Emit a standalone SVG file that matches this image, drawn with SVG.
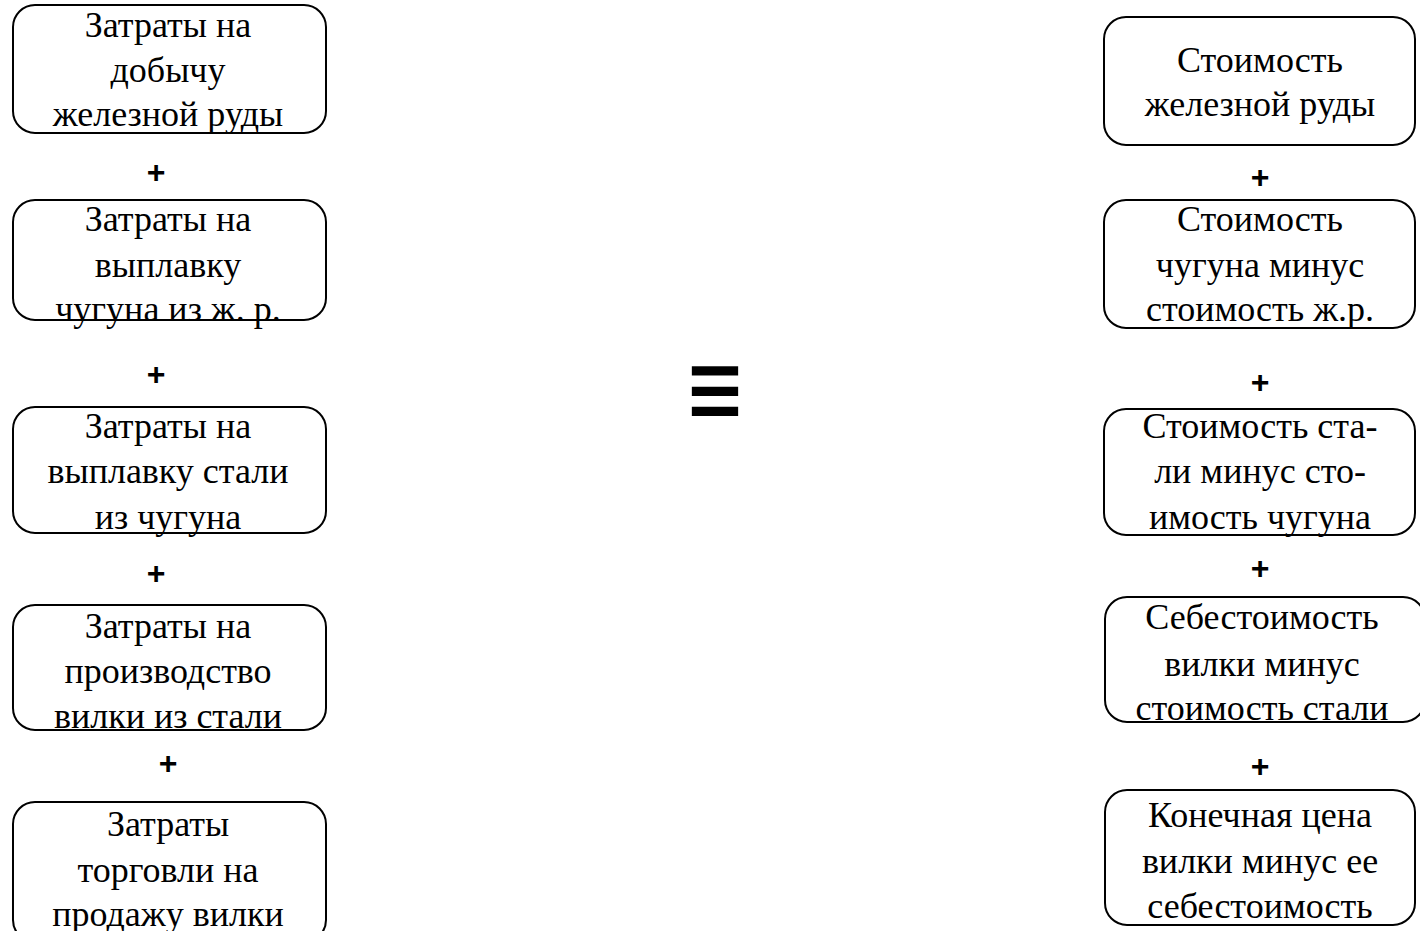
<svg xmlns="http://www.w3.org/2000/svg" width="1420" height="931" viewBox="0 0 1420 931">
<style>
.box{fill:none;stroke:#000;stroke-width:2}
.t{font-family:"Liberation Serif","Times New Roman",serif;font-size:36px;text-anchor:middle;fill:#000}
.p{font-family:"Liberation Sans",Arial,sans-serif;font-size:32px;font-weight:bold;text-anchor:middle;fill:#000}
.eq{font-family:"DejaVu Sans",sans-serif;font-size:74px;text-anchor:middle;fill:#000}
</style>
<rect width="1420" height="931" fill="#fff"/>
<g id="L1"><rect class="box" x="13" y="5" width="313" height="128" rx="22"/>
<text class="t" x="168" y="37">Затраты на</text><text class="t" x="168" y="82">добычу</text><text class="t" x="168" y="126">железной руды</text></g>
<g id="L2"><rect class="box" x="13" y="200" width="313" height="120" rx="22"/>
<text class="t" x="168" y="231">Затраты на</text><text class="t" x="168" y="277">выплавку</text><text class="t" x="168" y="321">чугуна из ж. р.</text></g>
<g id="L3"><rect class="box" x="13" y="407" width="313" height="126" rx="22"/>
<text class="t" x="168" y="438">Затраты на</text><text class="t" x="168" y="483">выплавку стали</text><text class="t" x="168" y="529">из чугуна</text></g>
<g id="L4"><rect class="box" x="13" y="605" width="313" height="125" rx="22"/>
<text class="t" x="168" y="638">Затраты на</text><text class="t" x="168" y="683">производство</text><text class="t" x="168" y="728">вилки из стали</text></g>
<g id="L5"><rect class="box" x="13" y="802" width="313" height="140" rx="22"/>
<text class="t" x="168" y="836">Затраты</text><text class="t" x="168" y="882">торговли на</text><text class="t" x="168" y="926">продажу вилки</text></g>
<g id="R1"><rect class="box" x="1104" y="17" width="311" height="128" rx="22"/>
<text class="t" x="1260" y="72">Стоимость</text><text class="t" x="1260" y="116">железной руды</text></g>
<g id="R2"><rect class="box" x="1104" y="200" width="311" height="128" rx="22"/>
<text class="t" x="1260" y="231">Стоимость</text><text class="t" x="1260" y="277">чугуна минус</text><text class="t" x="1260" y="321">стоимость ж.р.</text></g>
<g id="R3"><rect class="box" x="1104" y="409" width="311" height="126" rx="22"/>
<text class="t" x="1260" y="438">Стоимость ста-</text><text class="t" x="1260" y="483">ли минус сто-</text><text class="t" x="1260" y="529">имость чугуна</text></g>
<g id="R4"><rect class="box" x="1105" y="597" width="320" height="125" rx="22"/>
<text class="t" x="1262" y="629">Себестоимость</text><text class="t" x="1262" y="676">вилки минус</text><text class="t" x="1262" y="720">стоимость стали</text></g>
<g id="R5"><rect class="box" x="1105" y="790" width="310" height="135" rx="22"/>
<text class="t" x="1260" y="827">Конечная цена</text><text class="t" x="1260" y="873">вилки минус ее</text><text class="t" x="1260" y="918">себестоимость</text></g>
<g id="connectors">
<text class="p" x="156" y="183">+</text>
<text class="p" x="156" y="385">+</text>
<text class="p" x="156" y="584">+</text>
<text class="p" x="168" y="774">+</text>
<text class="p" x="1260" y="188">+</text>
<text class="p" x="1260" y="393">+</text>
<text class="p" x="1260" y="579">+</text>
<text class="p" x="1260" y="777">+</text>
<text class="eq" transform="translate(715,426) scale(1,1.5)" x="0" y="0">≡</text>
</g>
</svg>
